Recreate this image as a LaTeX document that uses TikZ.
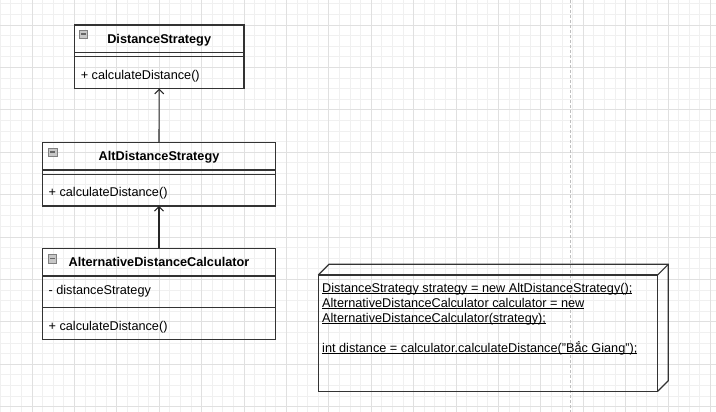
\documentclass[tikz,border=0pt]{standalone}
\usepackage{fontspec}
\setmainfont{Liberation Sans}
\usetikzlibrary{arrows.meta}
\usetikzlibrary{positioning}
\newcommand{\ulline}[1]{\underline{\smash{#1}}}
\tikzset{minor/.style = {draw=black!6, line width=0.8pt}}
\tikzset{major/.style = {draw=black!12, line width=0.8pt}}
\tikzset{pagebreak/.style = {draw=black!25, line width=1pt, dash pattern=on 3pt off 2pt}}
\tikzset{frame/.style = {draw=black!80, line width=1.2pt, rectangle, inner sep=0, outer sep=0}}
\tikzset{head/.style = {frame, minimum height=27.6pt, text height=11.5pt, text depth=2.7pt,
                        font=\fontsize{12.7}{15}\selectfont\bfseries}}
\tikzset{member/.style = {anchor=west, inner sep=0, text height=11.5pt, text depth=2.7pt,
                          font=\fontsize{12.7}{15}\selectfont}}
\tikzset{icon/.style = {draw=black!50, fill=black!22, rectangle, inner sep=0, minimum size=8.5pt}}
\tikzset{iconbar/.style = {draw=black!60, line width=1.1pt}}
\tikzset{inherit/.style = {draw=black!85, line width=1.1pt, -{Straight Barb[length=4.5pt, width=9pt]}}}
\tikzset{listing/.style = {anchor=north west, inner sep=0, align=left,
                           font=\fontsize{12.7}{15}\selectfont}}

\begin{document}
\begin{tikzpicture}[x=1pt, y=-1pt]
      \useasboundingbox (0,0) rectangle (716,412);
      \fill[white] (0,0) rectangle (716,412);

      % grid
      \foreach \i in {0,...,67} \draw[minor] ({0.2+10.6*\i},0) -- ({0.2+10.6*\i},412);
      \foreach \j in {0,...,38} \draw[minor] (0,{3.8+10.6*\j}) -- (716,{3.8+10.6*\j});
      \foreach \i in {0,...,16} \draw[major] ({32+42.4*\i},0) -- ({32+42.4*\i},412);
      \foreach \j in {0,...,9} \draw[major] (0,{25+42.4*\j}) -- (716,{25+42.4*\j});
      \draw[pagebreak] (570,0) -- (570,412);

      % DistanceStrategy
      \node (dsh) at (159.2, 38.8) [head, minimum width=169.6pt] {DistanceStrategy};
      \node (dsb) [frame, minimum width=169.6pt, minimum height=36pt, below=0pt of dsh] {};
      \draw[frame] ([yshift=-4.2pt]dsb.north west) -- ([yshift=-4.2pt]dsb.north east);
      \node (dsm) at (80.6, 74.9) [member] {+ calculateDistance()};
      \node (dsi) at (83.2, 34) [icon] {};
      \draw[iconbar] ([xshift=2pt]dsi.west) -- ([xshift=-2pt]dsi.east);

      % AltDistanceStrategy
      \node (alth) at (159, 156.1) [head, minimum width=233.2pt] {AltDistanceStrategy};
      \node (altb) [frame, minimum width=233.2pt, minimum height=36pt, below=0pt of alth] {};
      \draw[frame] ([yshift=-4.2pt]altb.north west) -- ([yshift=-4.2pt]altb.north east);
      \node (altm) at (48.4, 192.2) [member] {+ calculateDistance()};
      \node (alti) at (52.6, 152) [icon] {};
      \draw[iconbar] ([xshift=2pt]alti.west) -- ([xshift=-2pt]alti.east);

      % AlternativeDistanceCalculator
      \node (calch) at (159, 262.1) [head, minimum width=233.2pt] {AlternativeDistanceCalculator};
      \node (calca) [frame, minimum width=233.2pt, minimum height=31.8pt, below=0pt of calch] {};
      \node (calcb) [frame, minimum width=233.2pt, minimum height=31.8pt, below=0pt of calca] {};
      \node (calcf) at (48.4, 289.7) [member] {- distanceStrategy};
      \node (calcm) at (48.4, 325.8) [member] {+ calculateDistance()};
      \node (calci) at (52.2, 258.5) [icon] {};
      \draw[iconbar] ([xshift=2pt]calci.west) -- ([xshift=-2pt]calci.east);

      \draw[inherit] (alth.north) -- (dsb.south);
      \draw[inherit] (calch.north) -- (altb.south);

      % client code
      \node (code) at (488, 333.1) [frame, minimum width=339.4pt, minimum height=116.4pt] {};
      \draw[frame, line join=miter] (code.north west) -- ++(10.6,-10.6) -- ++(339.4,0)
            -- ++(0,116.4) -- (code.south east);
      \draw[frame] (code.north east) -- ++(10.6,-10.6);
      \node (codetxt) at (322, 292) [listing] {%
            \ulline{DistanceStrategy strategy = new AltDistanceStrategy();}\\
            \ulline{AlternativeDistanceCalculator calculator = new}\\
            \ulline{AlternativeDistanceCalculator(strategy);}\\
            \mbox{}\\
            \ulline{int distance = calculator.calculateDistance("Bắc Giang");}};
    \end{tikzpicture}
\end{document}
